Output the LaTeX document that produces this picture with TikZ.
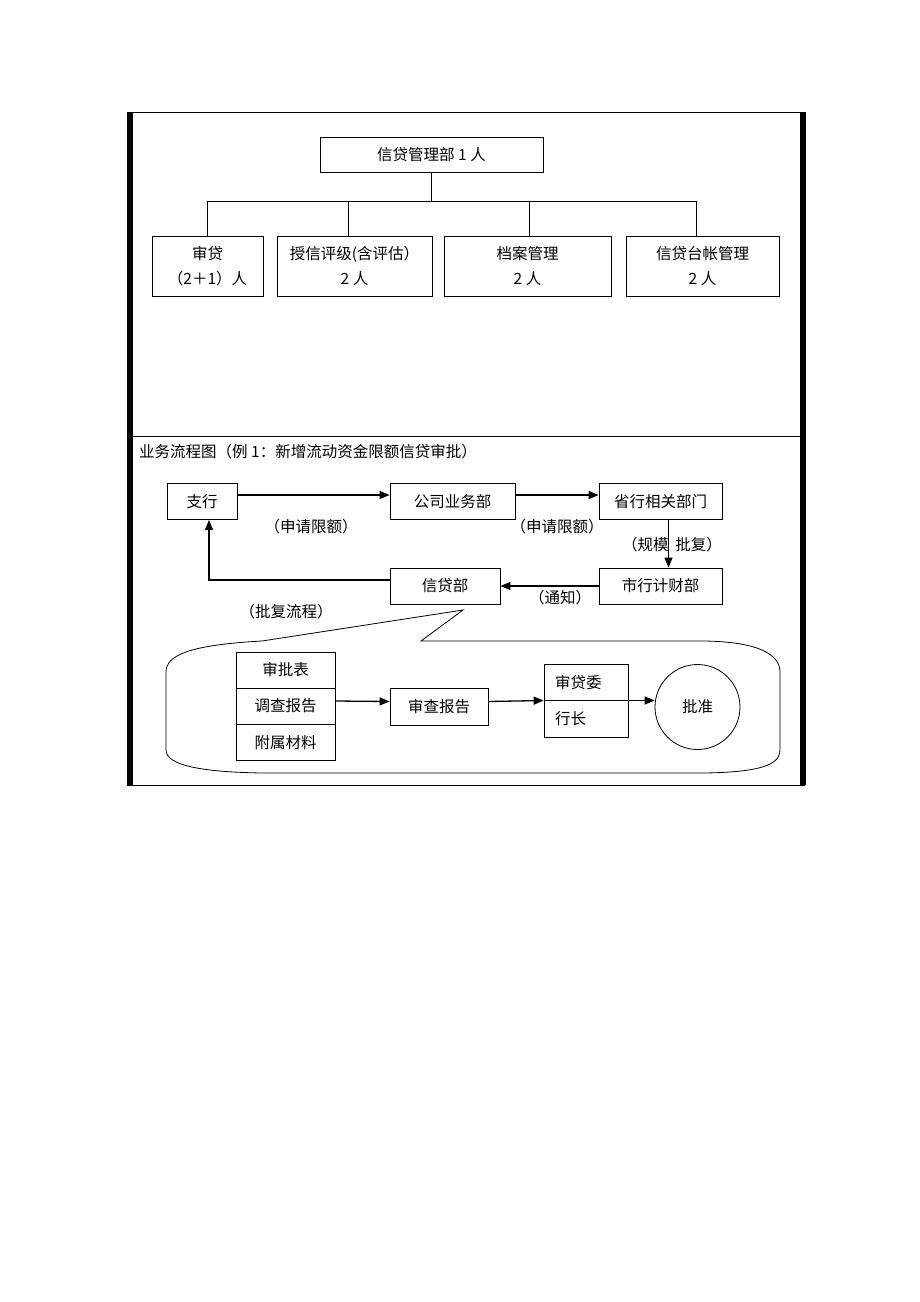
\documentclass[tikz,border=0pt]{standalone}
\usepackage{fontspec}
\setmainfont{Noto Sans CJK SC}
\usepackage{tikz}
\usetikzlibrary{arrows.meta}
\tikzset{>={Triangle[length=10pt,width=8pt]}}
\tikzset{%
    orgbox/.style={draw, line width=0.8pt, minimum height=35pt, inner sep=1pt, align=center, font=\fontsize{15.5}{25}\selectfont},
    flowbox/.style={draw, line width=0.8pt, minimum height=36pt, inner sep=1pt, font=\fontsize{15.5}{18}\selectfont},
    note/.style={inner sep=0pt, font=\fontsize{15.5}{18}\selectfont},
    link/.style={line width=0.8pt},
    flow/.style={->, line width=1.3pt}
}

\begin{document}
\begin{tikzpicture}[x=1pt,y=-1pt]
\path[fill=white] (0,0) rectangle (920,1302);

\draw[link] (132,112) rectangle (800,785);
\draw[link] (127,112) -- (805,112);
\draw[link] (127,785) -- (805,785);
\fill (127,112) rectangle (131.5,785);
\fill (801,112) rectangle (805.5,785);
\draw[link] (132,436) -- (800,436);

\node[orgbox, minimum width=223pt] (mgr) at (431.5,154.5) {信贷管理部 1 人};
\node[orgbox, minimum width=111pt, minimum height=60pt] (shd) at (207.5,266) {审贷\\（2＋1）人};
\node[orgbox, minimum width=155pt, minimum height=60pt] (sxpj) at (354.5,266) {授信评级(含评估）\\2 人};
\node[orgbox, minimum width=167pt, minimum height=60pt] (dagl) at (527.5,266) {档案管理\\2 人};
\node[orgbox, minimum width=153pt, minimum height=60pt] (tzgl) at (702.5,266) {信贷台帐管理\\2 人};

\coordinate (bus) at (431.5,201);
\draw[link] (mgr.south) -- (bus);
\draw[link] (shd.north) -- (shd.north |- bus) -- ([xshift=-6pt]tzgl.north |- bus) -- ([xshift=-6pt]tzgl.north);
\draw[link] ([xshift=-6.5pt]sxpj.north) -- ([xshift=-6.5pt]sxpj.north |- bus);
\draw[link] ([xshift=1.5pt]dagl.north) -- ([xshift=1.5pt]dagl.north |- bus);

\node[note, anchor=west] (title) at (139,452) {业务流程图（例 1：新增流动资金限额信贷审批）};

\node[flowbox, minimum width=70pt] (zh) at (202,501.5) {支行};
\node[flowbox, minimum width=125pt] (gsyw) at (452.5,501.5) {公司业务部};
\node[flowbox, minimum width=123pt] (sxbm) at (660.5,501.5) {省行相关部门};
\node[flowbox, minimum width=123pt] (sxcw) at (660.5,586) {市行计财部};
\node[flowbox, minimum width=110pt] (xdb) at (445,586) {信贷部};

\draw[flow] ([yshift=6.5pt]zh.east) -- ([yshift=6.5pt]gsyw.west);
\draw[flow] ([yshift=6.5pt]gsyw.east) -- ([yshift=6.5pt]sxbm.west);
\draw[flow] ([xshift=8pt]sxbm.south) -- ([xshift=8pt]sxcw.north);
\draw[flow] (sxcw.west) -- (xdb.east);
\draw[flow] ([yshift=6pt]xdb.west) -| ([xshift=7pt]zh.south);

\node[note] (sq1) at (311,527) {（申请限额）};
\node[note] (sq2) at (557,527) {（申请限额）};
\node[note] (gm) at (672,545) {（规模\ \ 批复）};
\node[note] (tz) at (560,598) {（通知）};
\node[note] (pf) at (286,612) {（批复流程）};

\draw[link] (463,610) -- (262,641) .. controls (190,645) and (166,655) .. (166,672)
  -- (166,750) .. controls (166,765) and (200,772) .. (262,773)
  -- (705,773) .. controls (760,772) and (780,765) .. (780,750)
  -- (780,672) .. controls (780,655) and (760,642) .. (705,641)
  -- (421,641) -- cycle;

\node[flowbox, minimum width=99pt] (spb) at (285.5,670) {审批表};
\node[flowbox, minimum width=99pt] (dcbg) at (285.5,706) {调查报告};
\node[flowbox, minimum width=99pt] (fscl) at (285.5,742.5) {附属材料};
\node[flowbox, minimum width=98pt, minimum height=37pt] (scbg) at (439,706.5) {审查报告};
\node[flowbox, minimum width=84pt, minimum height=73pt] (shdw) at (586,700.5) {};
\node[note, anchor=west] (sdw) at (555,683) {审贷委};
\node[note, anchor=west] (hz) at (555,719) {行长};
\node[draw, circle, line width=0.8pt, minimum size=85pt, inner sep=0pt, font=\fontsize{15.5}{18}\selectfont] (pz) at (697.5,707) {批准};

\draw[flow] ([yshift=5pt]dcbg.east) -- ([yshift=5pt]scbg.east -| scbg.west);
\draw[flow] ([yshift=5pt]scbg.east) -- (shdw.west);
\draw[flow] (shdw.west) -- (shdw.west -| pz.west);
\end{tikzpicture}
\end{document}
